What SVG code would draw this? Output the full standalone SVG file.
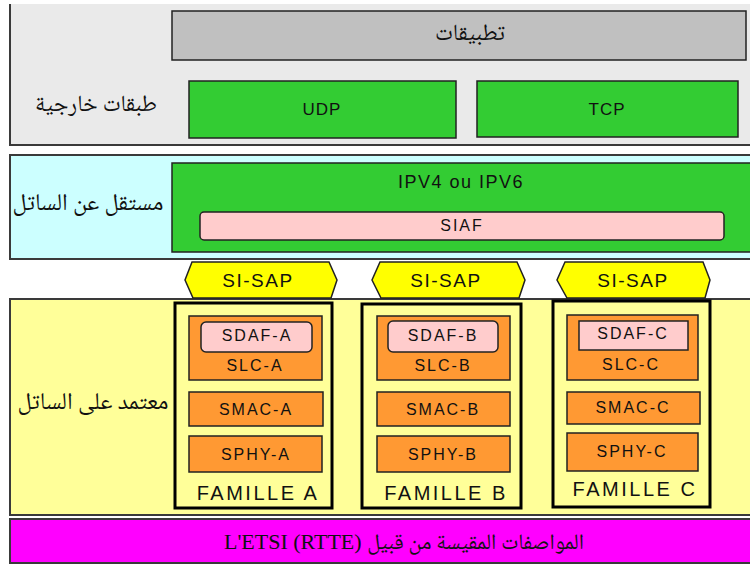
<svg xmlns="http://www.w3.org/2000/svg" width="750" height="565" viewBox="0 0 750 565">
<style>
.pan{stroke:#3a3a3a;stroke-width:2}
.box{stroke:#222;stroke-width:1.5}
.fam{fill:#FFFF99;stroke:#000;stroke-width:3}
.org{fill:#FF9933;stroke:#222;stroke-width:1.5}
.pnk{fill:#FFCCCC;stroke:#222;stroke-width:1.5}
.sap{fill:#FFFF00;stroke:#222;stroke-width:1.5}
.lat{font-family:"Liberation Sans","DejaVu Sans",sans-serif;fill:#111;text-anchor:middle}
.ar{font-family:"Noto Naskh Arabic","Noto Sans Arabic","DejaVu Serif","DejaVu Sans",serif;fill:#111;text-anchor:middle}
.s16{font-size:16px;letter-spacing:2px}
.fm{font-size:20px;letter-spacing:2.5px}
</style>
<rect width="750" height="565" fill="#ffffff"/>

<g id="panel-externes">
<rect x="10" y="4" width="745" height="141" fill="#EAEAEA"/>
<path d="M10,4 V145 H750" fill="none" class="pan"/>
<text class="ar" x="96" y="111" font-size="23">طبقات خارجية</text>
</g>
<g id="applications">
<rect x="172" y="11" width="574" height="49" fill="#C0C0C0" class="box"/>
<text class="ar" x="470" y="40" font-size="23">تطبيقات</text>
</g>
<g id="udp">
<rect x="189" y="81" width="267" height="57" fill="#33CC33" class="box"/>
<text class="lat" x="322" y="115" font-size="17" letter-spacing="1">UDP</text>
</g>
<g id="tcp">
<rect x="477" y="81" width="261" height="56" fill="#33CC33" class="box"/>
<text class="lat" x="607" y="115" font-size="17" letter-spacing="1">TCP</text>
</g>

<g id="panel-independant">
<rect x="10" y="155" width="745" height="104" fill="#CCFFFF" class="pan"/>
<text class="ar" x="88" y="210" font-size="24">مستقل عن الساتل</text>
</g>
<g id="ip">
<rect x="172" y="163" width="590" height="89" fill="#33CC33" class="box"/>
<text class="lat" x="461" y="188" font-size="18" letter-spacing="1.5">IPV4 ou IPV6</text>
</g>
<g id="siaf">
<rect x="200" y="212" width="524" height="28" rx="4" class="pnk"/>
<text class="lat s16" x="462" y="231">SIAF</text>
</g>

<g id="panel-dependant">
<rect x="10" y="299" width="745" height="216" fill="#FFFF99" class="pan"/>
<text class="ar" x="93" y="409" font-size="24">معتمد على الساتل</text>
</g>

<g id="si-sap-a">
<polygon class="sap" points="192,262 329,262 337,280 331,298 193,298 185,280"/>
<text class="lat" x="258" y="287" font-size="19" letter-spacing="1.5">SI-SAP</text>
</g>
<g id="si-sap-b">
<polygon class="sap" points="380,262 517,262 525,280 519,298 381,298 372,280"/>
<text class="lat" x="446" y="287" font-size="19" letter-spacing="1.5">SI-SAP</text>
</g>
<g id="si-sap-c">
<polygon class="sap" points="565,262 703,262 710,280 705,298 567,298 557,280"/>
<text class="lat" x="633" y="287" font-size="19" letter-spacing="1.5">SI-SAP</text>
</g>

<g id="famille-a">
<rect x="175" y="303" width="157" height="205" class="fam"/>
<rect x="189" y="316" width="133" height="64" class="org"/>
<rect x="201" y="322" width="111" height="30" rx="5" class="pnk"/>
<text class="lat s16" x="257" y="341">SDAF-A</text>
<text class="lat s16" x="255" y="371">SLC-A</text>
<rect x="189" y="392" width="134" height="34" class="org"/>
<text class="lat s16" x="256" y="415">SMAC-A</text>
<rect x="189" y="436" width="133" height="36" class="org"/>
<text class="lat s16" x="256" y="460">SPHY-A</text>
<text class="lat fm" x="258" y="500">FAMILLE A</text>
</g>

<g id="famille-b">
<rect x="362" y="304" width="159" height="204" class="fam"/>
<rect x="377" y="316" width="133" height="64" class="org"/>
<rect x="388" y="321" width="110" height="31" rx="5" class="pnk"/>
<text class="lat s16" x="443" y="341">SDAF-B</text>
<text class="lat s16" x="443" y="371">SLC-B</text>
<rect x="377" y="392" width="133" height="34" class="org"/>
<text class="lat s16" x="443" y="415">SMAC-B</text>
<rect x="377" y="436" width="133" height="36" class="org"/>
<text class="lat s16" x="443" y="460">SPHY-B</text>
<text class="lat fm" x="446" y="500">FAMILLE B</text>
</g>

<g id="famille-c">
<rect x="553" y="301" width="157" height="206" class="fam"/>
<rect x="567" y="315" width="131" height="65" class="org"/>
<rect x="579" y="321" width="109" height="29" class="pnk"/>
<text class="lat s16" x="633" y="339">SDAF-C</text>
<text class="lat s16" x="631" y="370">SLC-C</text>
<rect x="567" y="392" width="133" height="32" class="org"/>
<text class="lat s16" x="633" y="413">SMAC-C</text>
<rect x="567" y="433" width="131" height="38" class="org"/>
<text class="lat s16" x="632" y="457">SPHY-C</text>
<text class="lat fm" x="635" y="496">FAMILLE C</text>
</g>

<g id="panel-etsi">
<rect x="10" y="519" width="745" height="44" fill="#FF00FF" class="pan"/>
<text class="ar" x="404" y="549" font-size="22"><tspan font-family="'Liberation Serif',serif">L'ETSI (RTTE) </tspan>المواصفات المقيسة من قبيل</text>
</g>

<g id="connectors"></g>
</svg>
